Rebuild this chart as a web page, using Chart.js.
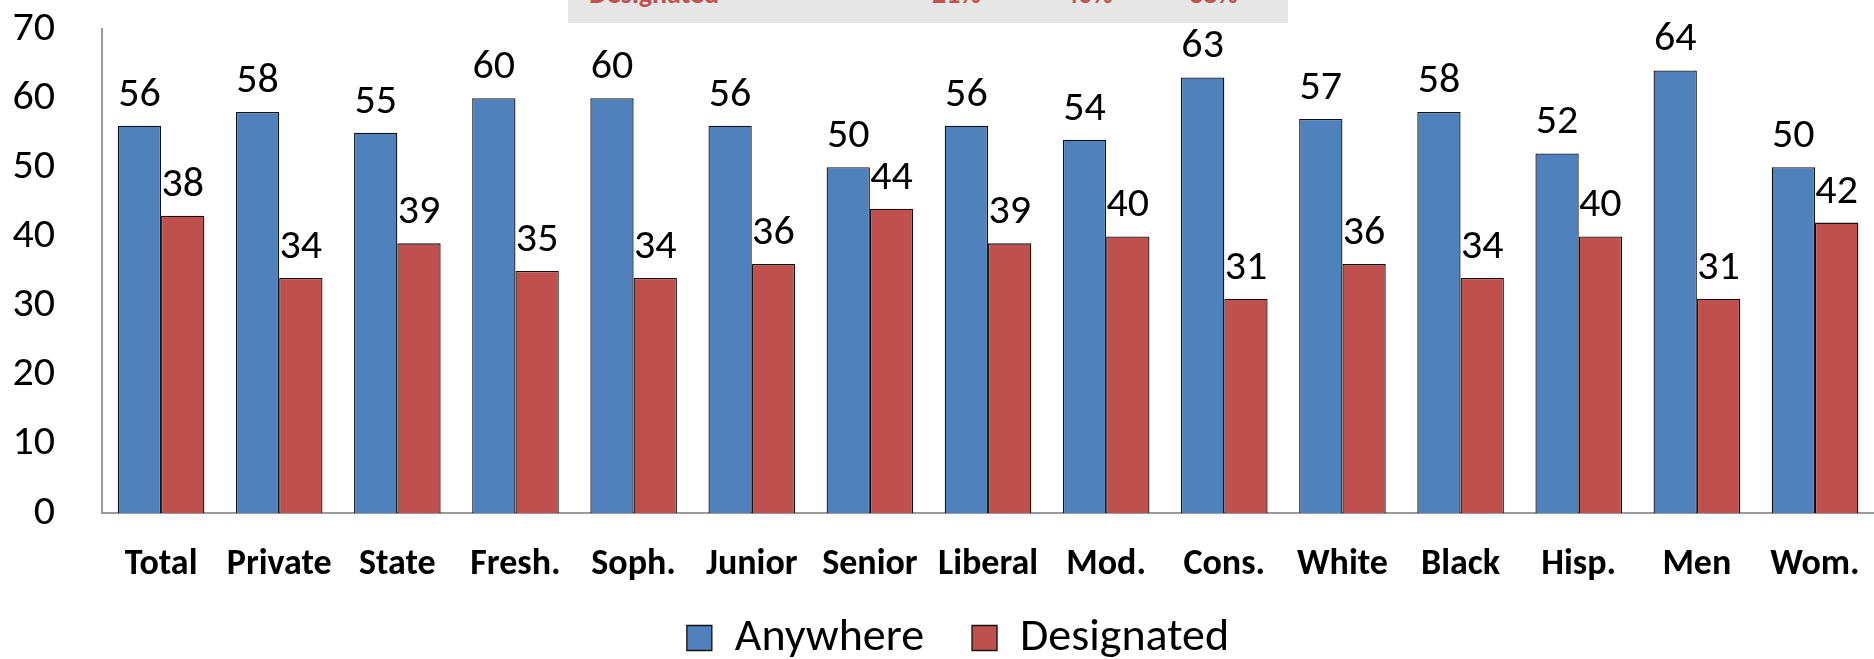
<!DOCTYPE html>
<html>
<head>
<meta charset="utf-8">
<script src="https://cdn.jsdelivr.net/npm/chart.js@4"></script>
<style>
  html, body { margin: 0; padding: 0; background: #fff; overflow: hidden; }
  body { width: 1874px; height: 659px; position: relative; }
  #wrap { position: absolute; left: 0; top: 0; width: 1890px; height: 659px; }
  #topbox {
    position: absolute; left: 568px; top: 0; width: 720px; height: 23px;
    background: #e6e6e6; overflow: hidden;
    font-family: Carlito, Lato, sans-serif; font-weight: bold; font-size: 28px; color: #C0504D;
  }
  #topbox span { position: absolute; top: -24px; white-space: nowrap; }
</style>
</head>
<body>
<div id="topbox">
  <span style="left:21px">Designated</span>
  <span style="left:364px">21%</span>
  <span style="left:496px">40%</span>
  <span style="left:621px">38%</span>
</div>
<div id="wrap"><canvas id="grafica"></canvas></div>
<script>
const categorias = ["Total", "Private", "State", "Fresh.", "Soph.", "Junior", "Senior", "Liberal", "Mod.", "Cons.", "White", "Black", "Hisp.", "Men", "Wom."];
const anywhere = [56, 58, 55, 60, 60, 56, 50, 56, 54, 63, 57, 58, 52, 64, 50];
// bar heights as drawn (the Total bar is drawn taller than its label says)
const designated = [43, 34, 39, 35, 34, 36, 44, 39, 40, 31, 36, 34, 40, 31, 42];
// label texts as printed
const etiqAnywhere = ["56", "58", "55", "60", "60", "56", "50", "56", "54", "63", "57", "58", "52", "64", "50"];
const etiqDesignated = ["38", "34", "39", "35", "34", "36", "44", "39", "40", "31", "36", "34", "40", "31", "42"];
const ticksY = [0, 10, 20, 30, 40, 50, 60, 70];

const fuente = 'Carlito, Lato, sans-serif';

// etiquetas encima de cada barra
const etiquetas = {
  id: 'etiquetas',
  afterDatasetsDraw(chart) {
    const ctx = chart.ctx;
    const textos = [etiqAnywhere, etiqDesignated];
    ctx.save();
    ctx.font = '42px ' + fuente;
    ctx.fillStyle = '#000';
    ctx.textAlign = 'center';
    ctx.textBaseline = 'alphabetic';
    chart.data.datasets.forEach((ds, i) => {
      chart.getDatasetMeta(i).data.forEach((bar, j) => {
        ctx.fillText(textos[i][j], bar.x, bar.y - 20);
      });
    });
    ctx.restore();
  }
};

const grafica = document.getElementById('grafica').getContext('2d');

new Chart(grafica, {
  type: 'bar',
  data: {
    labels: categorias,
    datasets: [
      {
        label: 'Anywhere',
        data: anywhere,
        backgroundColor: '#4F81BD',
        borderColor: '#111',
        borderWidth: 1.3,
        barPercentage: 1,
        categoryPercentage: 0.733
      },
      {
        label: 'Designated',
        data: designated,
        backgroundColor: '#C0504D',
        borderColor: '#111',
        borderWidth: 1.3,
        barPercentage: 1,
        categoryPercentage: 0.733
      }
    ]
  },
  options: {
    responsive: true,
    maintainAspectRatio: false,
    animation: false,
    layout: { padding: { left: 34, right: 8, top: 29, bottom: -12 } },
    plugins: {
      legend: {
        position: 'bottom',
        labels: {
          font: { family: fuente, size: 46 },
          color: '#000',
          boxWidth: 25,
          boxHeight: 25,
          padding: 48
        }
      },
      tooltip: { enabled: false }
    },
    scales: {
      x: {
        grid: { display: false, drawTicks: false },
        border: { display: true, color: '#9a9a9a', width: 2 },
        ticks: {
          autoSkip: false,
          maxRotation: 0,
          padding: 30,
          color: '#000',
          font: { family: fuente, size: 36, weight: 'bold' }
        },
        afterFit(scale) {
          scale.height = 54;
          // dejar que las etiquetas salgan de la caja del eje
          scale._computeLabelArea = () => undefined;
        }
      },
      y: {
        min: 0,
        max: 70,
        grid: { display: false, drawTicks: false },
        border: { display: true, color: '#9a9a9a', width: 2 },
        afterBuildTicks(scale) { scale.ticks = ticksY.map(v => ({ value: v })); },
        ticks: {
          padding: 47,
          color: '#000',
          font: { family: fuente, size: 42 }
        },
        afterFit(scale) {
          scale.width = 68;
          scale.paddingTop = 0;
          scale.paddingBottom = 0;
          scale._computeLabelArea = () => undefined;
        }
      }
    }
  },
  plugins: [etiquetas]
});
</script>
</body>
</html>
